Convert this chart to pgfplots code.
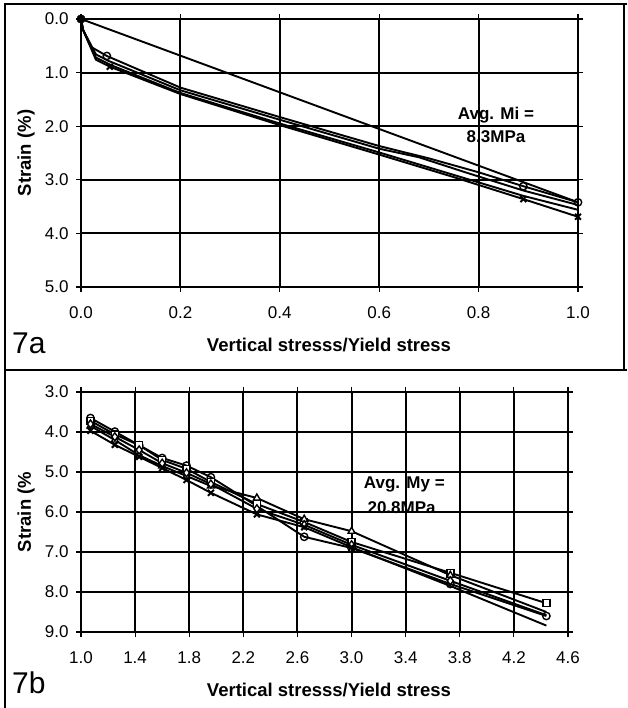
\documentclass[border=0pt]{standalone}
\usepackage{fontspec}
\setmainfont{Liberation Sans}
\usepackage{pgfplots}
\pgfplotsset{compat=1.18}
\begin{document}
\begin{tikzpicture}[x=1pt,y=1pt]
\useasboundingbox (0,0) rectangle (627,708);
\pgfplotsset{
  myax/.style={
    scale only axis, anchor=south west,
    axis line style={black,line width=1.9pt},
    grid=major, major grid style={black,line width=1.9pt},
    tick align=outside, major tick length=5pt,
    tick style={black,line width=1.2pt},
    y dir=reverse, clip=false,
    tick label style={font=\fontsize{17}{17}\selectfont},
    /pgf/number format/assume math mode=true,
    xticklabel style={/pgf/number format/fixed,/pgf/number format/fixed zerofill,/pgf/number format/precision=1,yshift=-11pt},
    yticklabel style={/pgf/number format/fixed,/pgf/number format/fixed zerofill,/pgf/number format/precision=1,xshift=-4pt},
    every axis plot/.append style={black,line width=1.9pt},
  },
  mc/.style={mark=o,mark size=3.7pt,mark options={fill=white,solid,line width=1.4pt}},
  ms/.style={mark=square*,mark size=3.5pt,mark options={fill=white,solid,line width=1.4pt}},
  mt/.style={mark=triangle*,mark size=4pt,mark options={fill=white,solid,line width=1.4pt}},
  mx/.style={mark=x,mark size=4.2pt,mark options={solid,line width=2pt}},
  md/.style={mark=diamond*,mark size=4pt,mark options={fill=white,solid,line width=1.4pt}},
}
% frame
\draw[black,line width=1.6pt] (5,0) -- (5,704) -- (627,704);
\draw[black,line width=1.6pt] (624,704) -- (624,338);
\draw[black,line width=1.6pt] (5,338) -- (627,338);
% ---------- 7a ----------
\begin{axis}[myax, at={(81pt,421pt)}, width=497pt, height=268pt,
  xmin=0, xmax=1, ymin=0, ymax=5,
  xtick={0,0.2,0.4,0.6,0.8,1.0}, ytick={0,1,2,3,4,5}]
\addplot[mark=none] coordinates {(0,0) (1.0,3.42)};
\addplot[mc, mark indices={1,4,10,11}] coordinates {(0,0) (0.004,0.2) (0.02,0.52) (0.052,0.69) (0.2,1.28) (0.4,1.83) (0.6,2.37) (0.7,2.6) (0.8,2.86) (0.89,3.12) (1.0,3.42)};
\addplot[mark=none] coordinates {(0,0) (0.004,0.2) (0.03,0.66) (0.055,0.78) (0.2,1.33) (0.4,1.88) (0.6,2.42) (0.68,2.58) (0.78,2.88) (0.89,3.2) (1.0,3.47)};
\addplot[mark=none] coordinates {(0,0) (0.004,0.2) (0.03,0.72) (0.06,0.86) (0.2,1.38) (0.4,1.95) (0.6,2.49) (0.89,3.3) (1.0,3.56)};
\addplot[mx, mark indices={1,4,9,10}] coordinates {(0,0) (0.004,0.2) (0.03,0.76) (0.058,0.89) (0.2,1.4) (0.4,1.98) (0.6,2.53) (0.75,2.95) (0.89,3.36) (1.0,3.69)};
\node[font=\bfseries\fontsize{17}{17}\selectfont] at (axis cs:0.835,1.79) {Avg. Mi =};
\node[font=\bfseries\fontsize{17}{17}\selectfont] at (axis cs:0.835,2.2) {8.3MPa};
\end{axis}
\node[font=\bfseries\fontsize{18.5}{18.5}\selectfont] at (329,363) {Vertical stresss/Yield stress};
\node[font=\bfseries\fontsize{18.5}{18.5}\selectfont,rotate=90] at (26,555) {Strain (\%)};
\node[font=\fontsize{30}{30}\selectfont,anchor=west,inner sep=0pt] at (12,365) {7a};
% ---------- 7b ----------
\begin{axis}[myax, at={(81pt,76pt)}, width=487pt, height=240pt,
  xmin=1, xmax=4.6, ymin=3, ymax=9,
  xtick={1.0,1.4,1.8,2.2,2.6,3.0,3.4,3.8,4.2,4.6}, ytick={3,4,5,6,7,8,9}]
\addplot[mc] coordinates {(1.07,3.65) (1.25,3.99) (1.43,4.33) (1.6,4.65) (1.78,4.84) (1.96,5.13) (2.3,5.85) (2.65,6.62) (3.0,6.9) (3.73,7.8) (4.44,8.6)};
\addplot[ms] coordinates {(1.07,3.72) (1.25,4.06) (1.43,4.33) (1.6,4.7) (1.78,4.92) (1.96,5.25) (2.3,5.8) (2.65,6.25) (3.0,6.75) (3.73,7.52) (4.44,8.28)};
\addplot[mt, mark indices={1,...,10}] coordinates {(1.07,3.85) (1.25,4.2) (1.43,4.58) (1.6,4.85) (1.78,5.1) (1.96,5.35) (2.3,5.65) (2.65,6.18) (3.0,6.48) (3.73,7.58) (4.44,8.5)};
\addplot[md, mark indices={1,...,10}] coordinates {(1.07,3.8) (1.25,4.12) (1.43,4.45) (1.6,4.78) (1.78,5.02) (1.96,5.3) (2.3,5.92) (2.65,6.32) (3.0,6.82) (3.73,7.72) (4.44,8.58)};
\addplot[mx, mark indices={1,...,9}] coordinates {(1.07,3.97) (1.25,4.32) (1.43,4.62) (1.6,4.9) (1.78,5.2) (1.96,5.52) (2.3,6.06) (2.65,6.38) (3.0,6.88) (3.73,7.85) (4.44,8.84)};
\node[font=\bfseries\fontsize{17}{17}\selectfont] at (axis cs:3.39,5.3) {Avg. My =};
\node[font=\bfseries\fontsize{17}{17}\selectfont] at (axis cs:3.37,5.88) {20.8MPa};
\end{axis}
\node[font=\bfseries\fontsize{18.5}{18.5}\selectfont] at (329,18) {Vertical stresss/Yield stress};
\node[font=\bfseries\fontsize{18.5}{18.5}\selectfont,rotate=90] at (26,196) {Strain (\%};
\node[font=\fontsize{30}{30}\selectfont,anchor=west,inner sep=0pt] at (12,25) {7b};
\end{tikzpicture}
\end{document}
